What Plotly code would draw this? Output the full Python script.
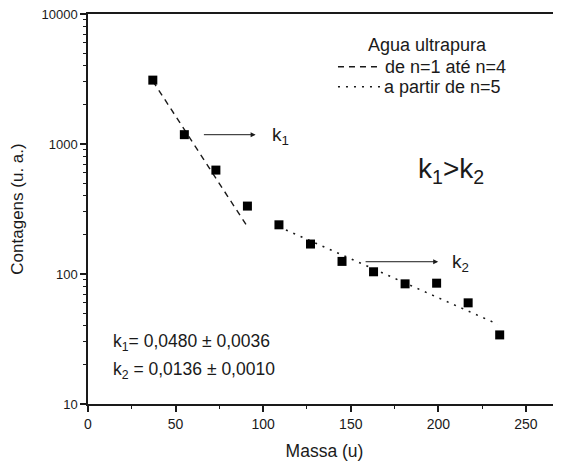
import math
import plotly.graph_objects as go

# ---- data ----
masses = [37, 55, 73, 91, 109, 127, 145, 163, 181, 199, 217, 235]
counts = [3100, 1180, 630, 333, 239, 170, 125, 104, 84, 85, 60, 34]

fit1_x = [37, 91]
fit1_y = [3050, 231]
fit2_x = [113, 234]
fit2_y = [218, 41]

x_tickvals = [0, 50, 100, 150, 200, 250]
y_tickvals = [10, 100, 1000, 10000]
y_ticktext = ["10", "100", "1000", "10000"]
y_minor = [m * d for d in (10, 100, 1000) for m in range(2, 10)]

legend_title = "Agua ultrapura"
fit1_name = "de n=1 até n=4"
fit2_name = "a partir de n=5"

FONT = "Liberation Sans, Arial, sans-serif"
INK = "#1a1a1a"
DASH1 = "6px,5px"
DASH2 = "2px,6px"

fig = go.Figure()
fig.add_trace(go.Scatter(x=fit1_x, y=fit1_y, mode="lines", name=fit1_name,
                         showlegend=False,
                         line=dict(color=INK, width=1.4, dash=DASH1)))
fig.add_trace(go.Scatter(x=fit2_x, y=fit2_y, mode="lines", name=fit2_name,
                         showlegend=False,
                         line=dict(color=INK, width=1.6, dash=DASH2)))
fig.add_trace(go.Scatter(x=masses, y=counts, mode="markers", showlegend=False,
                         marker=dict(symbol="square", size=9, color="black")))

L = math.log10
annotations = [
    # arrows
    dict(x=95.7, y=L(1179), ax=65.3, ay=L(1179), axref="x", ayref="y",
         xref="x", yref="y", text="", showarrow=True, arrowhead=2,
         arrowsize=1, arrowwidth=1, arrowcolor=INK),
    dict(x=199.9, y=L(124.3), ax=157.6, ay=L(124.3), axref="x", ayref="y",
         xref="x", yref="y", text="", showarrow=True, arrowhead=2,
         arrowsize=1, arrowwidth=1, arrowcolor=INK),
    dict(x=104.0, y=L(1150), xref="x", yref="y", text="k<sub>1</sub>",
         showarrow=False, xanchor="left", yanchor="middle",
         font=dict(size=19, color=INK, family=FONT)),
    dict(x=206.6, y=L(121), xref="x", yref="y", text="k<sub>2</sub>",
         showarrow=False, xanchor="left", yanchor="middle",
         font=dict(size=19, color=INK, family=FONT)),
    dict(x=207, y=L(620), xref="x", yref="y", text="k<sub>1</sub>&gt;k<sub>2</sub>",
         showarrow=False, xanchor="center", yanchor="middle",
         font=dict(size=28, color=INK, family=FONT)),
    dict(x=12.9, y=L(29.5), xref="x", yref="y",
         text="k<sub>1</sub>= 0,0480 ± 0,0036",
         showarrow=False, xanchor="left", yanchor="middle",
         font=dict(size=17.5, color=INK, family=FONT)),
    dict(x=12.9, y=L(18.1), xref="x", yref="y",
         text="k<sub>2</sub> = 0,0136 ± 0,0010",
         showarrow=False, xanchor="left", yanchor="middle",
         font=dict(size=17.5, color=INK, family=FONT)),
    # legend (drawn by hand to match the compact spacing)
    dict(x=0.7188, y=0.9205, xref="paper", yref="paper", text=legend_title,
         showarrow=False, xanchor="center", yanchor="middle",
         font=dict(size=18, color=INK, family=FONT)),
    dict(x=0.6237, y=0.8649, xref="paper", yref="paper", text=fit1_name,
         showarrow=False, xanchor="left", yanchor="middle",
         font=dict(size=18, color=INK, family=FONT)),
    dict(x=0.6216, y=0.8136, xref="paper", yref="paper", text=fit2_name,
         showarrow=False, xanchor="left", yanchor="middle",
         font=dict(size=18, color=INK, family=FONT)),
]

shapes = [
    dict(type="line", xref="paper", yref="paper", x0=0.5285, x1=0.6195,
         y0=0.8649, y1=0.8649, line=dict(color=INK, width=1.4, dash=DASH1)),
    dict(type="line", xref="paper", yref="paper", x0=0.5285, x1=0.6195,
         y0=0.8136, y1=0.8136, line=dict(color=INK, width=1.6, dash=DASH2)),
]

# page body has an 8px margin; size and margins compensate for it
fig.update_layout(
    width=553, height=457,
    margin=dict(l=80, r=0, t=6, b=61),
    paper_bgcolor="white", plot_bgcolor="white",
    font=dict(family=FONT, color=INK),
    showlegend=False,
    annotations=annotations,
    shapes=shapes,
    xaxis=dict(range=[0, 270], tickvals=x_tickvals, ticks="outside", ticklen=6,
               tickwidth=1.5, tickcolor=INK, showline=True, linecolor=INK,
               linewidth=1.5, mirror=True, showgrid=False, zeroline=False,
               ticklabeloverflow="allow",
               tickfont=dict(size=14, family=FONT, color=INK),
               minor=dict(dtick=25, tick0=0, ticks="outside", ticklen=3,
                          tickwidth=1.2, tickcolor=INK, showgrid=False),
               title=dict(text="Massa (u)", standoff=14,
                          font=dict(size=17.5, family=FONT, color=INK))),
    yaxis=dict(type="log", range=[1, 4], tickvals=y_tickvals, ticktext=y_ticktext,
               ticks="outside", ticklen=6, tickwidth=1.5, tickcolor=INK,
               showline=True, linecolor=INK, linewidth=1.5, mirror=False,
               showgrid=False, zeroline=False, ticklabeloverflow="allow",
               tickfont=dict(size=13, family=FONT, color=INK),
               minor=dict(tickvals=y_minor, ticks="outside", ticklen=3,
                          tickwidth=1.2, tickcolor=INK, showgrid=False),
               title=dict(text="Contagens (u. a.)", standoff=19,
                          font=dict(size=17, family=FONT, color=INK))),
)

fig.write_html("out.html")
